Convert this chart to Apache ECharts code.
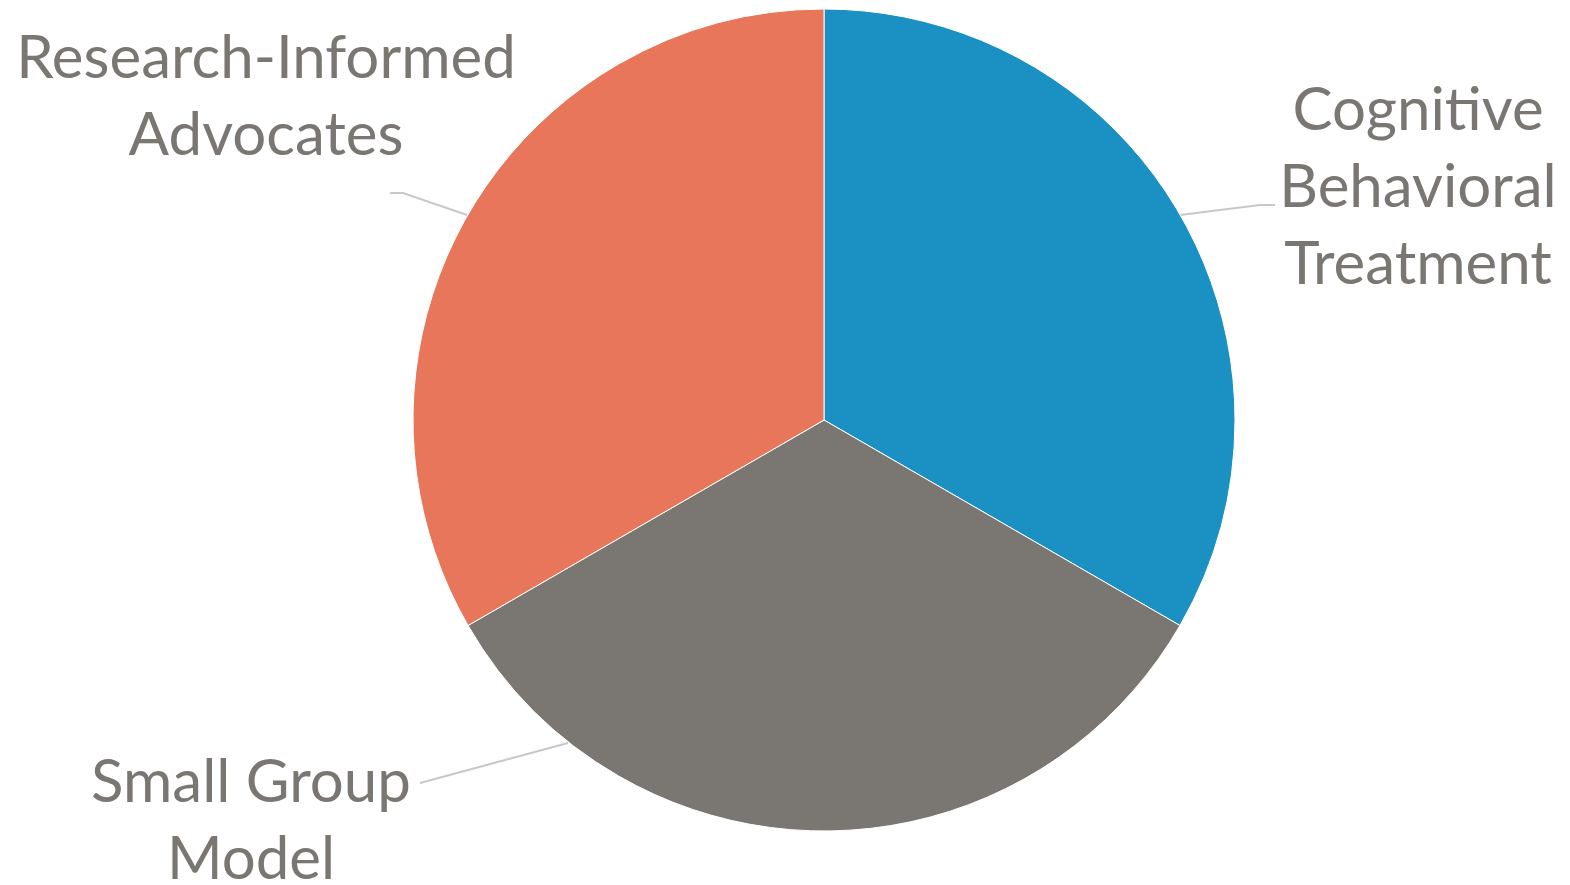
<!DOCTYPE html>
<html>
<head>
<meta charset="utf-8">
<script src="https://cdn.jsdelivr.net/npm/echarts@6/dist/echarts.min.js"></script>
<style>
html,body{margin:0;padding:0;background:#fff;}
#chart{width:1570px;height:885px;}
</style>
</head>
<body>
<div id="chart"></div>
<script>
const categories = ['Cognitive Behavioral Treatment', 'Small Group Model', 'Research-Informed Advocates'];
const labelTexts = ['Cognitive\nBehavioral\nTreatment', 'Small Group\nModel', 'Research-Informed\nAdvocates'];
const values = [1, 1, 1];
const colors = ['#1a91c2', '#7a7672', '#e8765a'];

// label anchor placement (centre of text block) and leader-line elbows
const labelPos = [
  {x: 1418, y: 188, line: [[1180, 215], [1260, 205], [1275, 205]]},
  {x: 251, y: 821, line: [[568, 743], [420, 783]]},
  {x: 266, y: 97, line: [[467, 215], [403, 193], [390, 193]]}
];

const chart = echarts.init(document.getElementById('chart'));
chart.setOption({
  animation: false,
  series: [{
    type: 'pie',
    center: [824, 420],
    radius: 411,
    startAngle: 90,
    clockwise: true,
    data: categories.map((c, i) => ({
      name: c,
      value: values[i],
      itemStyle: {color: colors[i]},
      label: {formatter: labelTexts[i]}
    })),
    itemStyle: {borderColor: '#ffffff', borderWidth: 1},
    label: {
      show: true,
      position: 'outside',
      fontFamily: 'Lato',
      fontSize: 60,
      lineHeight: 77,
      color: '#7a7672',
      align: 'center',
      width: 700,
      overflow: 'none'
    },
    labelLine: {show: true, lineStyle: {color: '#c8c8c8', width: 2}},
    labelLayout: function (p) {
      const lp = labelPos[p.dataIndex];
      return {x: lp.x, y: lp.y, align: 'center', verticalAlign: 'middle', labelLinePoints: lp.line};
    },
    emphasis: {disabled: true}
  }]
});
</script>
</body>
</html>
